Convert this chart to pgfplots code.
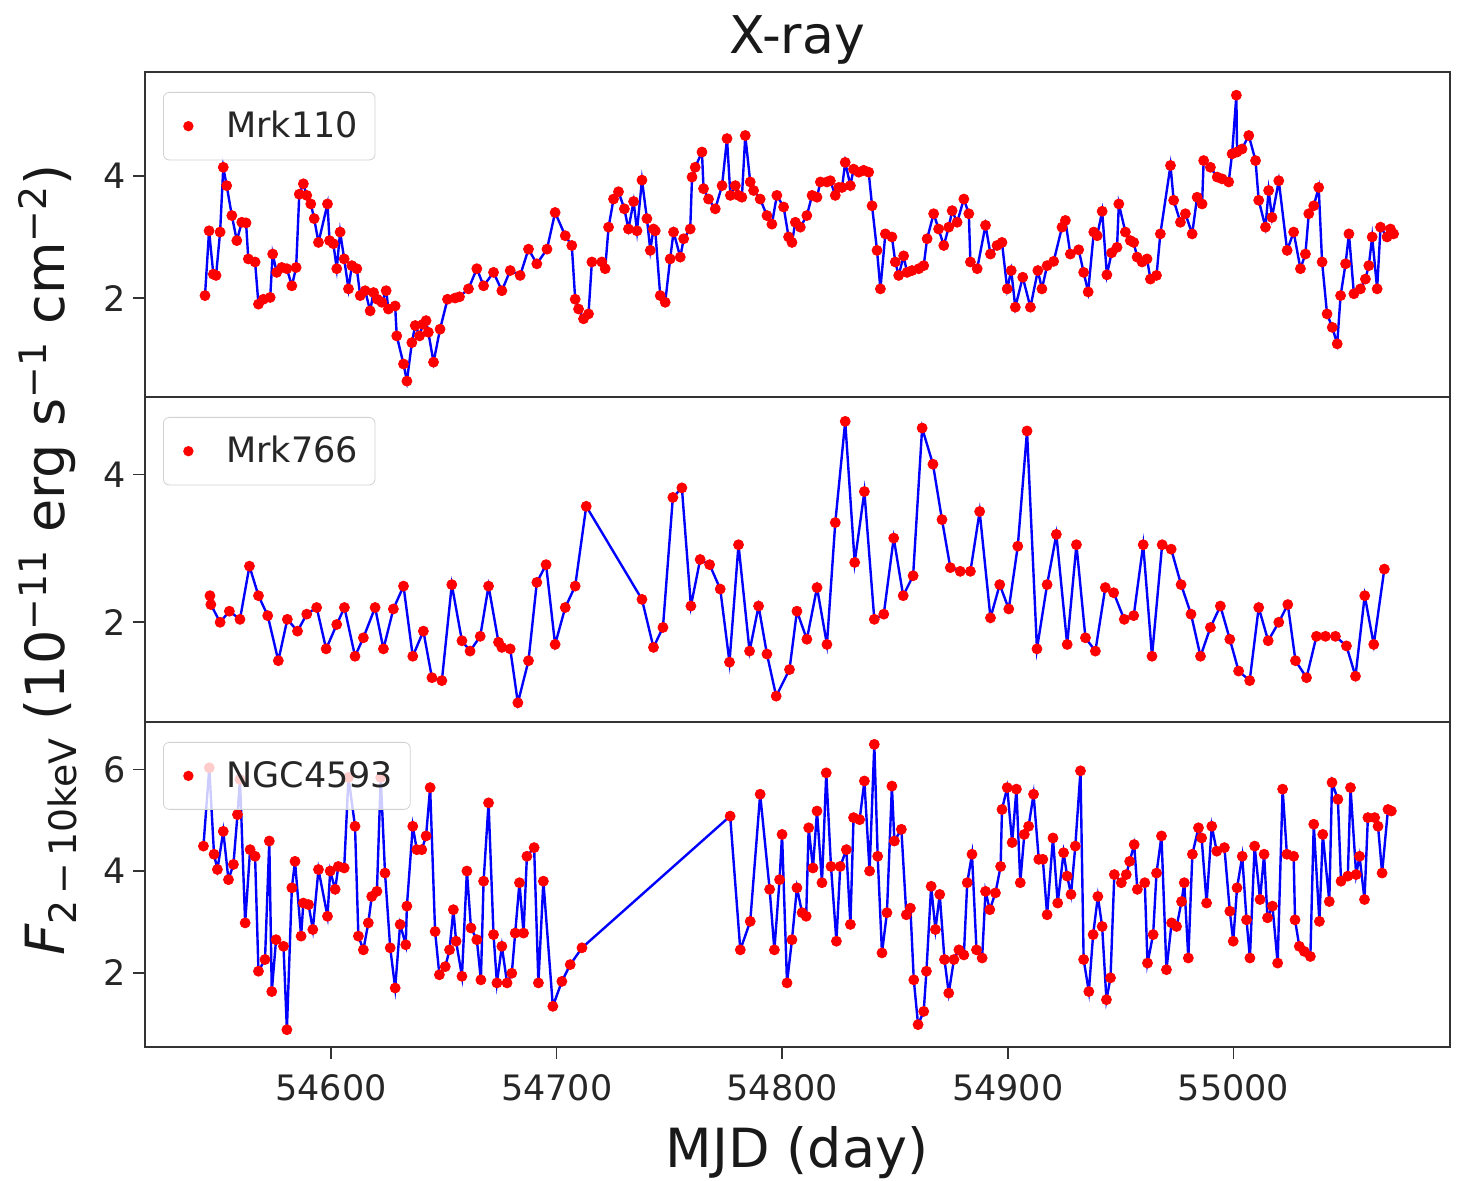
\documentclass[border=0pt]{standalone}
\usepackage{fontspec}
\setmainfont{DejaVu Sans}
\usepackage{pgfplots}
\pgfplotsset{compat=1.18}
\usepackage{pgfplotstable}

\pgfplotstableread{
x y
54544.1 2.04
54545.9 3.10
54547.8 2.39
54549.0 2.37
54550.8 3.08
54552.2 4.14
54553.7 3.84
54556.0 3.35
54558.2 2.94
54560.4 3.24
54562.3 3.23
54563.3 2.64
54566.3 2.59
54567.8 1.90
54570.0 1.98
54573.0 2.01
54574.1 2.72
54575.9 2.42
54578.1 2.50
54580.4 2.48
54582.6 2.20
54584.5 2.50
54585.9 3.70
54587.7 3.87
54589.2 3.68
54591.0 3.54
54592.5 3.30
54594.4 2.91
54598.4 3.54
54599.3 2.94
54601.0 2.89
54602.5 2.48
54604.0 3.08
54605.8 2.64
54607.7 2.15
54609.2 2.53
54611.4 2.48
54612.9 2.04
54615.1 2.12
54617.3 1.79
54618.8 2.09
54620.5 1.98
54622.5 1.93
54624.4 2.12
54625.4 1.82
54628.4 1.87
54629.1 1.38
54632.1 0.92
54633.6 0.64
54635.8 1.27
54637.3 1.55
54639.2 1.38
54640.7 1.57
54642.1 1.63
54643.1 1.44
54645.4 0.95
54648.3 1.49
54651.6 1.98
54655.0 2.00
54656.9 2.02
54660.9 2.15
54664.6 2.48
54667.6 2.20
54672.0 2.42
54675.7 2.12
54679.4 2.45
54683.8 2.37
54687.5 2.80
54691.2 2.56
54695.7 2.80
54699.3 3.40
54703.8 3.02
54706.7 2.86
54708.2 1.98
54709.7 1.82
54711.9 1.66
54714.1 1.74
54715.6 2.59
54720.0 2.59
54721.5 2.48
54723.0 3.16
54725.2 3.62
54727.4 3.74
54730.0 3.46
54731.8 3.13
54734.1 3.58
54735.6 3.10
54737.8 3.93
54740.0 3.30
54741.5 2.78
54742.9 3.13
54743.7 3.10
54745.9 2.04
54748.1 1.93
54750.3 2.64
54751.8 3.08
54754.8 2.67
54756.3 2.97
54759.2 3.13
54760.0 3.98
54761.4 4.14
54764.4 4.39
54765.1 3.79
54767.3 3.62
54770.3 3.46
54773.3 3.84
54775.5 4.61
54777.0 3.68
54779.2 3.84
54780.6 3.68
54782.1 3.65
54783.6 4.66
54785.8 3.90
54787.3 3.76
54790.2 3.62
54793.2 3.35
54795.4 3.21
54797.6 3.68
54800.6 3.49
54802.8 3.00
54804.3 2.91
54805.8 3.24
54808.0 3.16
54810.9 3.35
54813.2 3.68
54815.4 3.65
54816.9 3.90
54819.8 3.90
54821.3 3.92
54823.5 3.68
54825.0 3.81
54826.5 3.81
54827.9 4.22
54830.2 3.84
54831.6 4.11
54833.9 4.06
54836.1 4.09
54838.3 4.06
54839.8 3.51
54842.0 2.78
54843.5 2.15
54845.7 3.05
54848.6 3.00
54850.1 2.59
54851.6 2.37
54853.8 2.69
54855.3 2.42
54857.5 2.45
54860.5 2.48
54862.7 2.53
54864.2 2.97
54867.1 3.38
54869.3 3.13
54871.6 2.86
54873.8 3.16
54875.3 3.43
54877.5 3.24
54880.5 3.62
54882.7 3.38
54883.4 2.59
54886.4 2.48
54890.1 3.19
54892.3 2.72
54895.2 2.86
54897.4 2.91
54899.7 2.15
54901.5 2.45
54903.3 1.85
54906.6 2.34
54910.0 1.85
54913.3 2.45
54915.1 2.15
54917.4 2.53
54920.3 2.60
54924.0 3.16
54925.5 3.27
54927.7 2.72
54931.4 2.79
54933.6 2.42
54935.6 2.10
54938.1 3.08
54939.6 3.02
54941.8 3.42
54943.9 2.38
54946.0 2.74
54948.4 2.83
54949.2 3.54
54952.1 3.08
54954.3 2.94
54955.8 2.91
54957.3 2.67
54959.5 2.59
54961.7 2.64
54963.2 2.31
54965.9 2.37
54967.6 3.05
54972.1 4.17
54973.5 3.60
54976.5 3.24
54978.7 3.38
54981.7 3.05
54983.9 3.65
54986.1 3.54
54986.8 4.25
54989.8 4.14
54992.8 3.98
54995.0 3.95
54997.9 3.90
54999.4 4.36
55001.3 5.32
55001.6 4.39
55003.8 4.44
55006.8 4.66
55009.8 4.25
55011.2 3.60
55014.2 3.16
55015.6 3.76
55017.1 3.32
55020.1 3.92
55023.8 2.78
55026.7 3.08
55029.7 2.48
55031.9 2.72
55033.4 3.38
55035.6 3.51
55037.8 3.81
55039.3 2.59
55041.5 1.74
55043.8 1.52
55046.0 1.25
55047.5 2.04
55049.7 2.56
55051.2 3.05
55053.4 2.07
55056.3 2.15
55058.5 2.31
55060.0 2.53
55061.5 3.00
55063.7 2.15
55065.2 3.16
55068.1 3.00
55069.6 3.13
55071.0 3.05
}\mrkone

\pgfplotstableread{
x y
54546.3 2.36
54546.7 2.24
54550.8 2.00
54554.9 2.15
54559.6 2.04
54563.8 2.76
54567.8 2.36
54571.9 2.09
54576.6 1.48
54580.6 2.04
54585.1 1.88
54589.2 2.11
54593.6 2.20
54597.8 1.64
54602.5 1.97
54605.9 2.20
54610.6 1.54
54614.3 1.79
54619.5 2.20
54623.2 1.64
54627.6 2.18
54632.1 2.49
54636.2 1.54
54640.9 1.88
54644.7 1.25
54649.1 1.21
54653.5 2.51
54658.0 1.75
54661.6 1.61
54666.1 1.81
54669.8 2.49
54674.2 1.73
54675.7 1.66
54679.4 1.64
54682.8 0.91
54687.5 1.48
54691.2 2.54
54695.3 2.78
54699.3 1.70
54703.8 2.20
54708.2 2.49
54713.1 3.57
54737.8 2.31
54742.9 1.66
54747.1 1.93
54751.5 3.69
54755.5 3.82
54759.5 2.22
54763.6 2.85
54767.8 2.78
54772.5 2.45
54776.6 1.46
54780.6 3.05
54785.5 1.61
54789.5 2.22
54793.2 1.57
54797.3 1.00
54803.2 1.36
54806.5 2.15
54810.9 1.77
54815.4 2.47
54819.8 1.70
54823.5 3.35
54827.9 4.72
54832.1 2.81
54836.4 3.77
54840.8 2.04
54845.0 2.11
54849.4 3.14
54853.6 2.36
54858.0 2.63
54862.0 4.63
54866.8 4.14
54870.8 3.39
54874.5 2.74
54878.9 2.69
54883.4 2.69
54887.5 3.50
54892.3 2.06
54896.4 2.51
54900.4 2.18
54904.4 3.03
54908.5 4.59
54912.9 1.64
54917.4 2.51
54921.5 3.19
54926.3 1.70
54930.4 3.05
54934.4 1.79
54938.8 1.61
54943.2 2.47
54946.9 2.40
54951.6 2.04
54955.8 2.09
54960.0 3.05
54963.9 1.54
54968.4 3.05
54972.4 2.99
54976.8 2.51
54981.2 2.11
54985.4 1.54
54989.8 1.93
54994.2 2.22
54998.4 1.77
55002.3 1.34
55007.2 1.21
55011.2 2.20
55015.4 1.75
55020.1 2.00
55024.1 2.24
55027.5 1.48
55032.4 1.25
55036.8 1.81
55040.8 1.81
55045.2 1.81
55050.1 1.68
55054.1 1.27
55058.2 2.36
55062.2 1.70
55066.9 2.72
}\mrkseven

\pgfplotstableread{
x y
54543.4 4.49
54546.0 6.03
54548.1 4.33
54549.6 4.03
54552.2 4.78
54554.5 3.83
54556.7 4.13
54558.5 5.11
54559.6 5.80
54561.9 2.98
54564.1 4.42
54566.3 4.29
54567.8 2.03
54570.7 2.26
54572.6 4.59
54573.7 1.63
54575.6 2.65
54578.9 2.52
54580.4 0.88
54582.6 3.67
54584.0 4.19
54586.7 2.72
54587.7 3.37
54590.0 3.34
54591.9 2.85
54594.4 4.03
54598.4 3.11
54599.6 4.00
54601.8 3.64
54603.2 4.09
54605.8 4.06
54607.7 5.84
54610.6 4.88
54612.1 2.72
54614.3 2.45
54616.5 2.98
54618.0 3.50
54620.3 3.60
54622.0 5.84
54623.9 3.96
54626.2 2.49
54628.4 1.70
54630.6 2.95
54633.1 2.55
54633.6 3.31
54636.2 4.88
54638.0 4.42
54640.2 4.42
54642.1 4.69
54643.9 5.64
54646.1 2.81
54648.0 1.96
54650.6 2.12
54652.5 2.45
54654.2 3.24
54655.4 2.62
54658.0 1.93
54660.2 4.00
54662.0 2.88
54664.6 2.65
54666.4 1.86
54667.6 3.80
54669.8 5.34
54672.0 2.75
54673.5 1.80
54675.7 2.52
54678.0 1.80
54680.1 1.99
54681.6 2.78
54683.5 3.77
54685.3 2.78
54686.8 4.29
54690.0 4.46
54691.9 1.80
54694.1 3.80
54698.3 1.34
54702.3 1.83
54706.0 2.16
54711.2 2.49
54776.9 5.08
54781.4 2.45
54785.8 3.01
54790.2 5.51
54794.4 3.64
54796.5 2.45
54798.8 3.83
54799.9 4.72
54802.1 1.80
54804.3 2.65
54806.5 3.67
54808.8 3.18
54810.6 3.11
54811.7 4.85
54813.6 4.06
54815.4 5.18
54817.6 3.77
54819.5 5.93
54821.6 4.09
54824.0 2.62
54825.7 4.09
54828.4 4.42
54830.2 2.95
54831.6 5.05
54834.3 5.01
54836.4 5.77
54838.7 4.00
54840.8 6.49
54842.3 4.29
54844.2 2.39
54846.4 3.18
54848.6 5.67
54849.7 4.59
54852.8 4.82
54855.0 3.14
54856.8 3.27
54858.3 1.86
54860.2 0.98
54862.7 1.24
54863.9 2.03
54866.0 3.70
54867.9 2.85
54869.8 3.54
54871.9 2.26
54873.8 1.60
54876.1 2.26
54878.3 2.45
54880.5 2.35
54882.0 3.77
54884.1 4.33
54886.1 2.45
54888.6 2.29
54890.1 3.60
54892.0 3.24
54894.5 3.57
54896.8 4.09
54897.4 5.21
54899.7 5.64
54901.9 4.56
54903.8 5.61
54905.5 3.77
54907.3 4.72
54909.2 4.88
54911.4 5.51
54913.7 4.23
54915.5 4.23
54917.4 3.14
54920.0 4.65
54922.1 3.37
54924.7 4.36
54926.3 3.90
54928.0 3.54
54929.9 4.49
54932.2 5.97
54933.6 2.26
54935.9 1.63
54937.8 2.75
54939.9 3.50
54941.8 2.91
54943.7 1.47
54945.5 1.90
54947.2 3.93
54950.3 3.77
54952.5 3.93
54954.0 4.19
54956.0 4.52
54957.4 3.64
54960.7 3.77
54961.9 2.19
54964.4 2.75
54965.9 3.96
54968.1 4.69
54970.3 2.06
54972.6 2.98
54974.8 2.91
54977.0 3.40
54978.2 3.77
54980.0 2.29
54981.8 4.33
54984.5 4.85
54985.9 4.65
54988.1 3.37
54990.4 4.88
54992.6 4.39
54996.0 4.46
54998.4 3.21
54999.9 2.62
55001.6 3.67
55003.9 4.29
55005.8 3.04
55007.3 2.29
55009.4 4.49
55011.8 3.44
55013.6 4.33
55015.1 3.08
55017.3 3.31
55019.6 2.19
55021.8 5.61
55023.7 4.33
55026.7 4.29
55027.3 3.04
55029.2 2.52
55031.4 2.42
55034.1 2.32
55035.6 4.92
55038.1 3.01
55039.6 4.72
55042.5 3.40
55043.7 5.74
55046.3 5.41
55047.7 3.80
55050.7 3.90
55051.9 5.64
55054.4 3.93
55055.9 4.29
55058.1 3.44
55059.6 5.05
55062.6 5.05
55064.1 4.88
55065.9 3.96
55068.5 5.21
55070.0 5.18
}\ngc

\pgfplotsset{
  panel/.style={
    scale only axis, width=652.5pt, height=162.5pt,
    xmin=54517.5, xmax=55096,
    scaled x ticks=false, scaled y ticks=false,
    axis line style={line width=1pt, draw=black!80},
    tick style={line width=0.8pt, black!80},
    major tick length=6pt, tick align=outside,
    xtick pos=bottom, ytick pos=left,
    ticklabel style={font=\fontsize{17.5}{20}\selectfont, text=black!85},
    xticklabel style={yshift=-4pt},
    /pgf/number format/assume math mode=true,
    legend cell align=left,
    legend style={at={(0.0138,0.9385)}, anchor=north west,
      draw=black!18, rounded corners=3pt, fill=white, fill opacity=0.8,
      text opacity=1, font=\fontsize{17.5}{20}\selectfont,
      inner xsep=6.5pt, inner ysep=7.5pt, text=black!85},
    legend image code/.code={\path[draw=none,fill=none] (0pt,-2pt) rectangle (23pt,2pt);
      \fill[red,draw=none,fill opacity=1] (6pt,0pt) circle (2.6pt);},
  },
  marks/.style={only marks, mark=*, mark size=2.5pt, color=red, mark options={draw=red, fill=red}},
  curve/.style={blue, line width=1.2pt, no markers, forget plot},
}

\begin{document}
\begin{tikzpicture}
\useasboundingbox (-72.5pt,-66.5pt) rectangle (659pt,523.5pt);

\begin{axis}[panel, at={(0pt,325pt)}, ymin=0.38, ymax=5.70, ytick={2,4}, xtick=\empty]
\addplot[marks] table[x=x,y=y] {\mrkone};
\addlegendentry{Mrk110}
\addplot[curve] table[x=x,y=y] {\mrkone};
\end{axis}

\begin{axis}[panel, at={(0pt,162.5pt)}, ymin=0.65, ymax=5.05, ytick={2,4}, xtick=\empty]
\addplot[marks] table[x=x,y=y] {\mrkseven};
\addlegendentry{Mrk766}
\addplot[curve] table[x=x,y=y] {\mrkseven};
\end{axis}

\begin{axis}[panel, at={(0pt,0pt)}, ymin=0.54, ymax=6.93, ytick={2,4,6},
  xtick={54600,54700,54800,54900,55000},
  xticklabels={54600,54700,54800,54900,55000}]
\addplot[marks] table[x=x,y=y] {\ngc};
\addlegendentry{NGC4593}
\addplot[curve] table[x=x,y=y] {\ngc};
\end{axis}

\node[font=\fontsize{26}{30}\selectfont, text=black!90] at (326pt,503.5pt) {X-ray};
\node[font=\fontsize{27}{30}\selectfont, text=black!90] at (326pt,-53pt) {MJD (day)};
\node[rotate=90, font=\fontsize{27}{30}\selectfont, text=black!90] at (-48.5pt,243.5pt)
  {{\itshape F}\textsubscript{2\,−\,10keV} (10\textsuperscript{−11} erg s\textsuperscript{−1} cm\textsuperscript{−2})};
\end{tikzpicture}
\end{document}
